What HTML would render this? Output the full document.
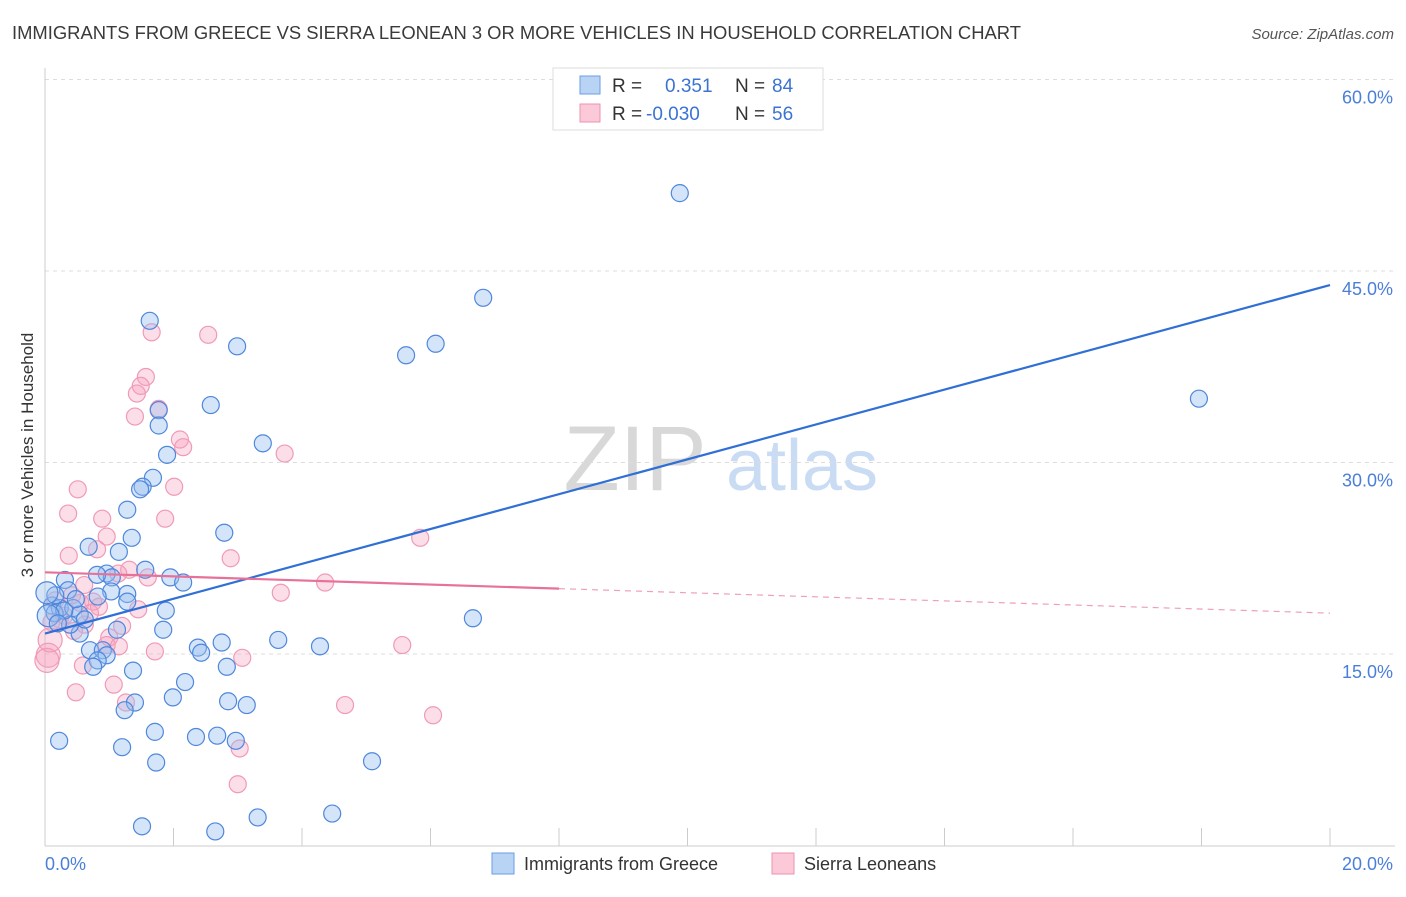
<!DOCTYPE html>
<html><head><meta charset="utf-8"><style>
body{margin:0;background:#fff;font-family:"Liberation Sans",sans-serif;}
svg text{font-family:"Liberation Sans",sans-serif;}
</style></head><body>
<svg id="chart" width="1406" height="892" xmlns="http://www.w3.org/2000/svg">
<text x="12" y="39" font-size="18.4" fill="#3a3a3a">IMMIGRANTS FROM GREECE VS SIERRA LEONEAN 3 OR MORE VEHICLES IN HOUSEHOLD CORRELATION CHART</text>
<text x="1394" y="39" font-size="15" fill="#555" text-anchor="end" font-style="italic">Source: ZipAtlas.com</text>
<text transform="translate(33,455) rotate(-90)" font-size="17" fill="#333" text-anchor="middle">3 or more Vehicles in Household</text>
<g>
<text x="635" y="490" font-size="92" fill="#d8d8d8" text-anchor="middle" font-family="Liberation Serif">ZIP</text>
<text x="802" y="490" font-size="72" fill="#c9dcf3" text-anchor="middle">atlas</text>
</g>
<g id="grid"></g><g id="axes"></g><g id="pts"></g><g id="lines"></g>
<g>
<rect x="553" y="68" width="270" height="62" fill="#fff" stroke="#ddd"/>
<rect x="580" y="76" width="20" height="18" fill="#b9d3f5" stroke="#6a9ee6"/>
<rect x="580" y="104" width="20" height="18" fill="#fbc9d8" stroke="#ee92b0"/>
<text x="612" y="92" font-size="19" fill="#333">R =</text>
<text x="665" y="92" font-size="19" fill="#3b73d3">0.351</text>
<text x="735" y="92" font-size="19" fill="#333">N =</text>
<text x="772" y="92" font-size="19" fill="#3b73d3">84</text>
<text x="612" y="120" font-size="19" fill="#333">R =</text>
<text x="646" y="120" font-size="19" fill="#3b73d3">-0.030</text>
<text x="735" y="120" font-size="19" fill="#333">N =</text>
<text x="772" y="120" font-size="19" fill="#3b73d3">56</text>
</g>
<g>
<rect x="492" y="853" width="22" height="21" fill="#b9d3f5" stroke="#6a9ee6"/>
<text x="524" y="870" font-size="18" fill="#333">Immigrants from Greece</text>
<rect x="772" y="853" width="22" height="21" fill="#fbc9d8" stroke="#ee92b0"/>
<text x="804" y="870" font-size="18" fill="#333">Sierra Leoneans</text>
</g>
</svg>
<script>
const yTicks=[15,30,45,60];
const xTickLabels=["0.0%","20.0%"];
const blueX=[9.88,6.82,1.63,2.99,5.62,6.08,17.96,2.58,1.77,1.77,3.39,1.90,1.68,1.52,1.48,1.28,2.79,1.35,0.68,1.15,0.31,1.56,0.96,1.04,0.81,1.95,2.15,1.28,1.03,1.28,0.82,0.36,0.11,0.23,0.44,0.54,0.16,1.88,6.66,1.12,1.84,0.54,0.39,2.75,3.63,4.28,2.38,2.43,0.70,0.90,0.96,0.82,2.83,1.37,0.75,2.18,1.99,2.85,3.14,1.40,1.24,1.71,2.35,2.68,2.97,0.22,1.20,1.73,5.09,1.51,2.65,3.31,4.47,0.03,0.15,0.30,0.48,0.05,0.62,0.20];
const blueY=[51.1,42.9,41.1,39.1,38.4,39.3,35.0,34.5,34.1,32.9,31.5,30.6,28.8,28.1,27.9,26.3,24.5,24.1,23.4,23.0,20.8,21.6,21.3,21.0,21.2,21.0,20.6,19.7,19.9,19.1,19.5,20.0,18.8,18.6,18.6,18.1,19.6,18.4,17.8,16.9,16.9,16.6,17.3,15.9,16.1,15.6,15.5,15.1,15.3,15.3,14.9,14.5,14.0,13.7,14.0,12.8,11.6,11.3,11.0,11.2,10.6,8.9,8.5,8.6,8.2,8.2,7.7,6.5,6.6,1.5,1.1,2.2,2.5,19.8,18.2,18.4,19.3,18.0,17.7,17.4];
const pinkX=[2.54,1.66,1.57,1.49,1.43,1.77,1.40,2.10,2.15,3.73,0.51,2.01,0.36,0.89,1.87,0.96,5.84,0.37,0.81,2.89,1.31,1.14,4.36,0.61,0.42,3.67,0.75,1.45,0.84,0.16,0.23,0.62,1.00,0.96,1.15,1.71,5.56,0.05,0.03,3.07,0.59,1.07,0.48,1.26,4.67,6.04,3.03,3.00,0.08,0.30,0.55,1.20,0.10,0.70,0.45,1.60];
const pinkY=[40.0,40.2,36.7,36.0,35.4,34.2,33.6,31.8,31.2,30.7,27.9,28.1,26.0,25.6,25.6,24.2,24.1,22.7,23.2,22.5,21.6,21.3,20.6,20.4,19.6,19.8,19.1,18.5,18.7,19.2,17.7,17.3,16.3,15.7,15.6,15.2,15.7,14.9,14.5,14.7,14.1,12.6,12.0,11.2,11.0,10.2,7.6,4.8,16.1,18.0,19.0,17.2,17.5,18.2,16.8,21.0];
const blueTrend=[16.6,43.9];
const pinkTrend=[21.4,18.2];
const pinkSolidEnd=8.0;
const NS="http://www.w3.org/2000/svg";
const X=v=>45+v/20*1285;
const Y=v=>845.5-v/15*191.5;
function mk(t,a,p){const e=document.createElementNS(NS,t);for(const k in a)e.setAttribute(k,a[k]);p.appendChild(e);return e;}
const grid=document.getElementById('grid'),axes=document.getElementById('axes');
yTicks.forEach(t=>{
 const l=mk('line',{x1:45,x2:1395,y1:Y(t),y2:Y(t),stroke:'#ddd','stroke-dasharray':'4,4'},grid);
 
 
 const tx=mk('text',{x:1393,y:Y(t)+24,'font-size':18,fill:'#4a7fd8','text-anchor':'end'},grid);
 tx.textContent=t.toFixed(1)+'%';
 
 
});
mk('line',{x1:45,x2:45,y1:68,y2:846,stroke:'#ccc'},axes);
mk('line',{x1:45,x2:1395,y1:846,y2:846,stroke:'#ccc'},axes);
for(let i=0;i<=10;i++){mk('line',{x1:X(i*2),x2:X(i*2),y1:828,y2:846,stroke:'#ccc'},axes);}
const xl0=mk('text',{x:45,y:870,'font-size':18,fill:'#4a7fd8'},axes);xl0.textContent=xTickLabels[0];


const xl1=mk('text',{x:1393,y:870,'font-size':18,fill:'#4a7fd8','text-anchor':'end'},axes);xl1.textContent=xTickLabels[1];


const pts=document.getElementById('pts');
pinkX.forEach((v,i)=>{const c=mk('circle',{cx:X(v),cy:Y(pinkY[i]),r:(v<0.1?12:8.5),fill:'rgba(246,160,188,0.35)',stroke:'#f09ab6','stroke-width':1.2},pts);
 
 });
blueX.forEach((v,i)=>{const c=mk('circle',{cx:X(v),cy:Y(blueY[i]),r:(v<0.1?11:8.5),fill:'rgba(150,190,240,0.4)',stroke:'#4f87dc','stroke-width':1.2},pts);
 
 });
const ln=document.getElementById('lines');
const b=mk('line',{x1:X(0),y1:Y(blueTrend[0]),x2:X(20),y2:Y(blueTrend[1]),stroke:'#2f6fd6','stroke-width':2.2},ln);


const pm=pinkTrend[0]+(pinkTrend[1]-pinkTrend[0])*pinkSolidEnd/20;
const p1=mk('line',{x1:X(0),y1:Y(pinkTrend[0]),x2:X(pinkSolidEnd),y2:Y(pm),stroke:'#e8719a','stroke-width':2.2},ln);


const p2=mk('line',{x1:X(pinkSolidEnd),y1:Y(pm),x2:X(20),y2:Y(pinkTrend[1]),stroke:'#eea0ba','stroke-width':1.2,'stroke-dasharray':'6,5'},ln);


</script>
</body></html>
